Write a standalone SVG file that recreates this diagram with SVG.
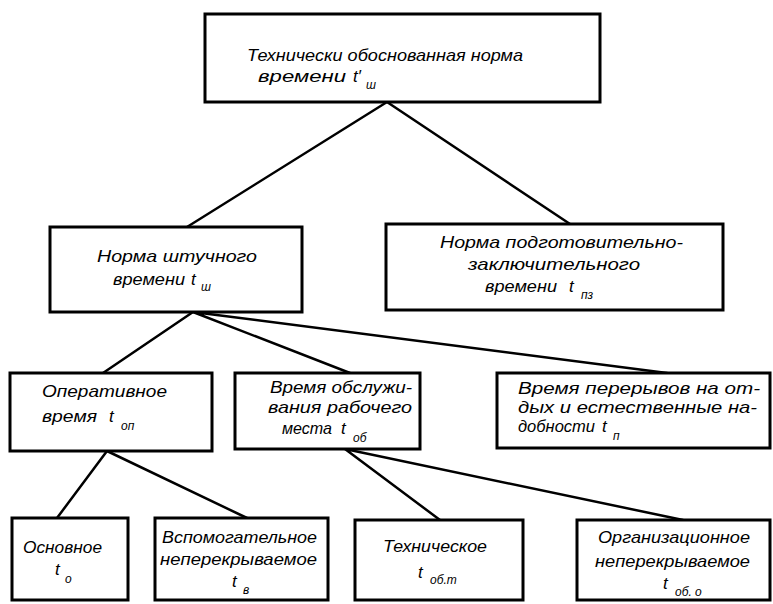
<svg xmlns="http://www.w3.org/2000/svg" width="773" height="604" viewBox="0 0 773 604">
<style>
.box{fill:#fff;stroke:#000;stroke-width:3}
.ln{stroke:#000;stroke-width:2.5;fill:none;stroke-linecap:round}
text{font-family:"Liberation Sans","DejaVu Sans",sans-serif;font-style:italic;font-size:17px;fill:#000}
.s{font-size:12px}
</style>
<rect width="773" height="604" fill="#fff"/>
<g id="connectors">
<path class="ln" d="M387,102 L187,227 M387,102 L570,224"/>
<path class="ln" d="M193,312 L103,373 M193,312 L350,373 M193,312 L667,373"/>
<path class="ln" d="M107,451 L57,518 M107,451 L247,518"/>
<path class="ln" d="M345,449 L440,520 M345,449 L683,520"/>
</g>
<g id="n_top">
<rect class="box" x="205" y="14" width="395" height="88"/>
<text x="247" y="61" textLength="276" lengthAdjust="spacingAndGlyphs">Технически обоснованная норма</text>
<text x="258" y="82" textLength="88" lengthAdjust="spacingAndGlyphs">времени</text>
<text x="353" y="82">t′</text>
<text class="s" x="366" y="89">ш</text>
</g>
<g id="n_sht">
<rect class="box" x="50" y="227" width="252" height="85"/>
<text x="97" y="262" textLength="160" lengthAdjust="spacingAndGlyphs">Норма штучного</text>
<text x="113" y="285" textLength="72" lengthAdjust="spacingAndGlyphs">времени</text>
<text x="191" y="285">t</text>
<text class="s" x="201" y="291">ш</text>
</g>
<g id="n_pz">
<rect class="box" x="386" y="224" width="337" height="86"/>
<text x="440" y="248" textLength="243" lengthAdjust="spacingAndGlyphs">Норма подготовительно-</text>
<text x="468" y="270" textLength="172" lengthAdjust="spacingAndGlyphs">заключительного</text>
<text x="485" y="292" textLength="72" lengthAdjust="spacingAndGlyphs">времени</text>
<text x="569" y="292">t</text>
<text class="s" x="581" y="299">пз</text>
</g>
<g id="n_op">
<rect class="box" x="10" y="373" width="202" height="78"/>
<text x="42" y="397" textLength="125" lengthAdjust="spacingAndGlyphs">Оперативное</text>
<text x="42" y="422" textLength="55" lengthAdjust="spacingAndGlyphs">время</text>
<text x="109" y="422">t</text>
<text class="s" x="121" y="430">оп</text>
</g>
<g id="n_ob">
<rect class="box" x="235" y="373" width="185" height="76"/>
<text x="270" y="393" textLength="142" lengthAdjust="spacingAndGlyphs">Время обслужи-</text>
<text x="268" y="413" textLength="144" lengthAdjust="spacingAndGlyphs">вания рабочего</text>
<text x="282" y="434" textLength="50" lengthAdjust="spacingAndGlyphs">места</text>
<text x="341" y="434">t</text>
<text class="s" x="353" y="442">об</text>
</g>
<g id="n_per">
<rect class="box" x="497" y="373" width="273" height="75"/>
<text x="518" y="394" textLength="242" lengthAdjust="spacingAndGlyphs">Время перерывов на от-</text>
<text x="518" y="413" textLength="239" lengthAdjust="spacingAndGlyphs">дых и естественные на-</text>
<text x="518" y="432" textLength="77" lengthAdjust="spacingAndGlyphs">добности</text>
<text x="602" y="432">t</text>
<text class="s" x="613" y="440">п</text>
</g>
<g id="n_osn">
<rect class="box" x="12" y="518" width="116" height="82"/>
<text x="23" y="553" textLength="79" lengthAdjust="spacingAndGlyphs">Основное</text>
<text x="55" y="575">t</text>
<text class="s" x="65" y="583">о</text>
</g>
<g id="n_vsp">
<rect class="box" x="155" y="518" width="173" height="82"/>
<text x="162" y="543" textLength="155" lengthAdjust="spacingAndGlyphs">Вспомогательное</text>
<text x="160" y="565" textLength="157" lengthAdjust="spacingAndGlyphs">неперекрываемое</text>
<text x="232" y="587">t</text>
<text class="s" x="243" y="594">в</text>
</g>
<g id="n_teh">
<rect class="box" x="355" y="520" width="168" height="80"/>
<text x="383" y="552" textLength="104" lengthAdjust="spacingAndGlyphs">Техническое</text>
<text x="418" y="578">t</text>
<text class="s" x="430" y="584">об.т</text>
</g>
<g id="n_org">
<rect class="box" x="577" y="520" width="193" height="80"/>
<text x="598" y="543" textLength="152" lengthAdjust="spacingAndGlyphs">Организационное</text>
<text x="595" y="567" textLength="155" lengthAdjust="spacingAndGlyphs">неперекрываемое</text>
<text x="663" y="589">t</text>
<text class="s" x="675" y="596">об. о</text>
</g>
</svg>
